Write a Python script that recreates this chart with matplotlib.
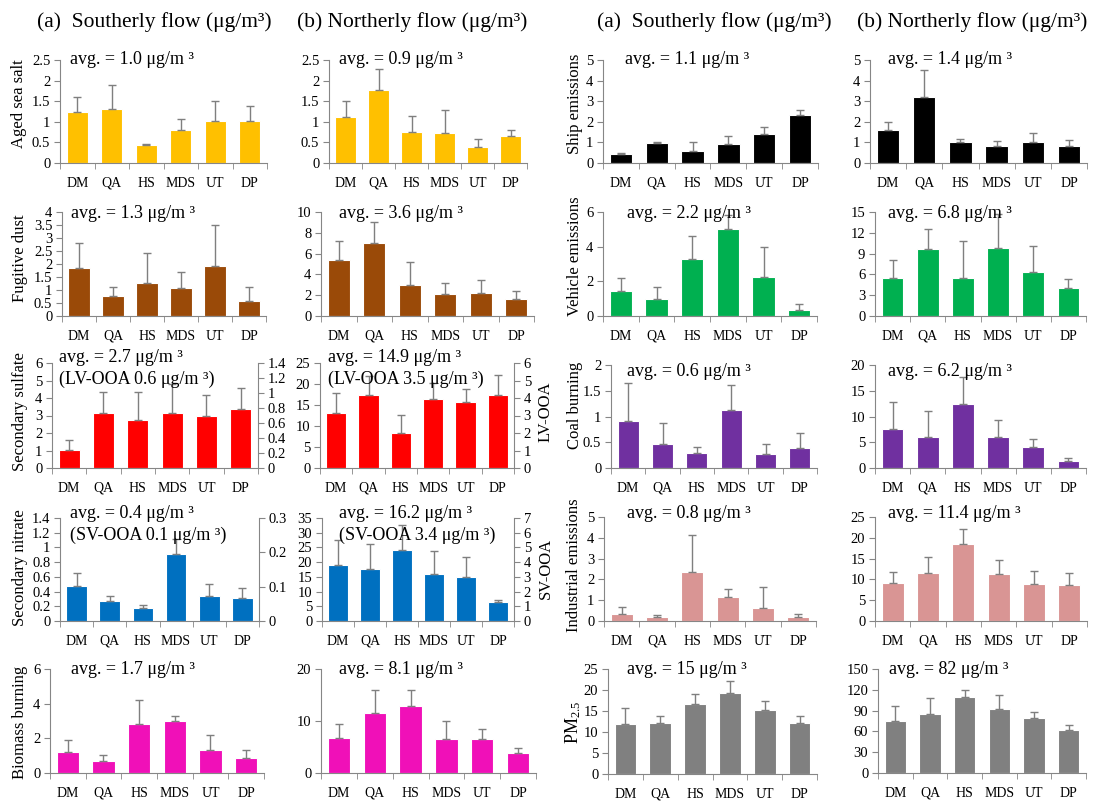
import matplotlib
matplotlib.use('agg')
import numpy as np
import matplotlib.pyplot as plt
from matplotlib.ticker import MultipleLocator, FuncFormatter

plt.rcParams['font.family'] = ['Liberation Serif', 'DejaVu Serif']
plt.rcParams['mathtext.fontset'] = 'custom'
plt.rcParams['mathtext.rm'] = 'Liberation Serif'
plt.rcParams['mathtext.it'] = 'Liberation Serif:italic'

sites = ['DM', 'QA', 'HS', 'MDS', 'UT', 'DP']

# (a) southerly / (b) northerly flow, mean and SD per site (ug/m3)
seasalt_s = [1.24, 1.31, 0.44, 0.81, 1.02, 1.02]
seasalt_s_sd = [0.36, 0.58, 0.03, 0.25, 0.48, 0.36]
seasalt_n = [1.11, 1.77, 0.75, 0.73, 0.40, 0.65]
seasalt_n_sd = [0.39, 0.52, 0.38, 0.56, 0.19, 0.16]

dust_s = [1.83, 0.76, 1.27, 1.07, 1.93, 0.57]
dust_s_sd = [0.97, 0.35, 1.14, 0.61, 1.56, 0.54]
dust_n = [5.34, 7.01, 2.99, 2.12, 2.19, 1.64]
dust_n_sd = [1.83, 2.03, 2.22, 1.10, 1.28, 0.74]

sulfate_s = [1.05, 3.16, 2.76, 3.16, 2.99, 3.37]
sulfate_s_sd = [0.57, 1.18, 1.58, 1.64, 1.16, 1.20]
sulfate_n = [13.2, 17.5, 8.33, 16.5, 15.6, 17.5]
sulfate_n_sd = [4.7, 4.3, 4.2, 3.7, 3.1, 4.6]

nitrate_s = [0.474, 0.271, 0.176, 0.908, 0.339, 0.312]
nitrate_s_sd = [0.172, 0.072, 0.045, 0.21, 0.161, 0.14]
nitrate_n = [18.97, 17.6, 24.0, 15.9, 14.9, 6.44]
nitrate_n_sd = [8.4, 8.7, 8.7, 7.8, 6.9, 0.56]

biomass_s = [1.2, 0.68, 2.85, 2.98, 1.32, 0.85]
biomass_s_sd = [0.7, 0.38, 1.35, 0.33, 0.87, 0.45]
biomass_n = [6.77, 11.5, 12.9, 6.45, 6.45, 3.8]
biomass_n_sd = [2.71, 4.4, 3.0, 3.55, 2.05, 1.1]

ship_s = [0.45, 0.98, 0.60, 0.94, 1.42, 2.34]
ship_s_sd = [0.02, 0.05, 0.43, 0.35, 0.32, 0.24]
ship_n = [1.60, 3.21, 1.00, 0.81, 1.00, 0.81]
ship_n_sd = [0.37, 1.32, 0.18, 0.27, 0.48, 0.32]

vehicle_s = [1.44, 0.98, 3.28, 5.00, 2.24, 0.34]
vehicle_s_sd = [0.78, 0.71, 1.36, 0.85, 1.74, 0.33]
vehicle_n = [5.46, 9.63, 5.46, 9.77, 6.32, 4.02]
vehicle_n_sd = [2.59, 2.97, 5.34, 5.0, 3.8, 1.25]

coal_s = [0.92, 0.46, 0.30, 1.13, 0.28, 0.38]
coal_s_sd = [0.74, 0.41, 0.11, 0.48, 0.19, 0.30]
coal_n = [7.55, 6.0, 12.45, 6.0, 4.0, 1.42]
coal_n_sd = [5.22, 5.1, 5.25, 3.23, 1.68, 0.52]

industry_s = [0.35, 0.18, 2.36, 1.17, 0.61, 0.18]
industry_s_sd = [0.32, 0.09, 1.76, 0.38, 1.02, 0.14]
industry_n = [9.2, 11.6, 18.5, 11.2, 8.97, 8.57]
industry_n_sd = [2.6, 3.8, 3.7, 3.5, 3.0, 2.9]

pm_s = [11.9, 12.1, 16.6, 19.3, 15.3, 12.1]
pm_s_sd = [3.7, 1.8, 2.4, 2.9, 2.2, 1.8]
pm_n = [75, 85.5, 110, 92.7, 79.8, 62.6]
pm_n_sd = [21.5, 23, 9, 20.3, 8.6, 6.7]

W, H = 1097, 801
fig = plt.figure(figsize=(W / 100, H / 100), dpi=100)
GRAY = '#868686'
fmt = FuncFormatter(lambda v, p: f'{v:g}')


def fx(x):
    return x / W


def fy(y):
    return 1 - y / H


def style_y(ax, side):
    ax.yaxis.set_major_formatter(fmt)
    ax.tick_params(axis='y', which='major', direction='out', length=4,
                   color=GRAY, labelsize=10.5, pad=3)
    ax.spines[side].set_color(GRAY)


def panel(pos, vals, sd, color, ymax, step, right=None):
    l, r, t, b = pos
    ax = fig.add_axes([fx(l), fy(b), (r - l) / W, (b - t) / H])
    x = np.arange(len(sites))
    ax.bar(x, vals, width=0.62, color=color, edgecolor='white',
           linewidth=0.8, zorder=2)
    ax.errorbar(x, vals, yerr=[np.zeros(len(vals)), sd], fmt='none',
                ecolor='#7f7f7f', elinewidth=1, capsize=3, capthick=1, zorder=3)
    ax.set_xlim(-0.5, 5.5)
    ax.set_ylim(0, ymax)
    ax.yaxis.set_major_locator(MultipleLocator(step))
    ax.set_xticks(x)
    ax.set_xticklabels(sites, fontsize=10)
    ax.set_xticks(np.arange(-0.5, 6, 1), minor=True)
    ax.tick_params(axis='x', which='major', length=0, pad=10)
    ax.tick_params(axis='x', which='minor', direction='out', length=4, color=GRAY)
    for s in ['top', 'right']:
        ax.spines[s].set_visible(False)
    ax.spines['bottom'].set_color(GRAY)
    style_y(ax, 'left')
    if right is not None:
        ax2 = ax.twinx()
        ax2.set_ylim(0, right[0])
        ax2.yaxis.set_major_locator(MultipleLocator(right[1]))
        for s in ['top', 'left', 'bottom']:
            ax2.spines[s].set_visible(False)
        style_y(ax2, 'right')
    return ax


def label(x, y, s, size=12):
    fig.text(fx(x), fy(y), s, rotation=90, ha='center', va='center', fontsize=size)


def note(x, y, s, size=13):
    fig.text(fx(x), fy(y), s, ha='left', va='center', fontsize=size)


# column titles
for xt, s in [(37, '(a)  Southerly flow (μg/m³)'), (297, '(b) Northerly flow (μg/m³)'),
              (597, '(a)  Southerly flow (μg/m³)'), (857, '(b) Northerly flow (μg/m³)')]:
    fig.text(fx(xt), fy(22), s, ha='left', va='center', fontsize=15.5)

# row 1
panel((60, 267, 60, 163), seasalt_s, seasalt_s_sd, '#FFC000', 2.5, 0.5)
panel((329, 527, 60, 163), seasalt_n, seasalt_n_sd, '#FFC000', 2.5, 0.5)
panel((603, 818, 60, 163), ship_s, ship_s_sd, '#000000', 5, 1)
panel((870, 1087, 60, 163), ship_n, ship_n_sd, '#000000', 5, 1)
label(19, 104, 'Aged sea salt')
label(575, 104, 'Ship emissions')
note(70, 59, 'avg. = 1.0 μg/m ³')
note(339, 59, 'avg. = 0.9 μg/m ³')
note(625, 59, 'avg. = 1.1 μg/m ³')
note(888, 59, 'avg. = 1.4 μg/m ³')

# row 2
panel((62, 266, 212, 316), dust_s, dust_s_sd, '#9A4A08', 4, 0.5)
panel((321, 534, 212, 316), dust_n, dust_n_sd, '#9A4A08', 10, 2)
panel((603, 817, 212, 316), vehicle_s, vehicle_s_sd, '#00B050', 6, 2)
panel((875, 1086, 212, 316), vehicle_n, vehicle_n_sd, '#00B050', 15, 3)
label(20, 258, 'Fugitive dust')
label(575, 256, 'Vehicle emissions')
note(71, 213, 'avg. = 1.3 μg/m ³')
note(339, 213, 'avg. = 3.6 μg/m ³')
note(627, 213, 'avg. = 2.2 μg/m ³')
note(888, 213, 'avg. = 6.8 μg/m ³')

# row 3
panel((52, 258, 363, 468), sulfate_s, sulfate_s_sd, '#FF0000', 6, 1, right=(1.4, 0.2))
panel((320, 514, 363, 468), sulfate_n, sulfate_n_sd, '#FF0000', 25, 5, right=(6, 1))
panel((611, 817, 365, 468), coal_s, coal_s_sd, '#7030A0', 2, 0.5)
panel((875, 1086, 365, 468), coal_n, coal_n_sd, '#7030A0', 20, 5)
label(20, 412, 'Secondary sulfate')
label(546, 412, 'LV-OOA')
label(575, 405, 'Coal burning')
note(59, 357, 'avg. = 2.7 μg/m ³')
note(59, 379, '(LV-OOA 0.6 μg/m ³)')
note(328, 357, 'avg. = 14.9 μg/m ³')
note(328, 379, '(LV-OOA 3.5 μg/m ³)')
note(627, 372, 'avg. = 0.6 μg/m ³')
note(888, 372, 'avg. = 6.2 μg/m ³')

# row 4
panel((60, 259, 518, 621), nitrate_s, nitrate_s_sd, '#0070C0', 1.4, 0.2, right=(0.3, 0.1))
panel((322, 514, 518, 621), nitrate_n, nitrate_n_sd, '#0070C0', 35, 5, right=(7, 1))
panel((604, 816, 517, 621), industry_s, industry_s_sd, '#D99594', 5, 1)
panel((875, 1087, 517, 621), industry_n, industry_n_sd, '#D99594', 25, 5)
label(20, 568, 'Secondary nitrate')
label(546, 568, 'SV-OOA')
label(574, 565, 'Industrial emissions')
note(70, 513, 'avg. = 0.4 μg/m ³')
note(70, 535, '(SV-OOA 0.1 μg/m ³)')
note(339, 513, 'avg. = 16.2 μg/m ³')
note(339, 535, '(SV-OOA 3.4 μg/m ³)')
note(627, 513, 'avg. = 0.8 μg/m ³')
note(888, 513, 'avg. = 11.4 μg/m ³')

# row 5
panel((50, 264, 669, 773), biomass_s, biomass_s_sd, '#F010B8', 6, 2)
panel((321, 536, 669, 773), biomass_n, biomass_n_sd, '#F010B8', 20, 10)
panel((608, 817, 669, 774), pm_s, pm_s_sd, '#808080', 25, 5)
panel((878, 1086, 669, 773), pm_n, pm_n_sd, '#808080', 150, 30)
label(20, 722, 'Biomass burning')
label(573, 722, r'PM$_{\mathrm{2.5}}$', size=13)
note(71, 670, 'avg. = 1.7 μg/m ³')
note(339, 670, 'avg. = 8.1 μg/m ³')
note(627, 670, 'avg. = 15 μg/m ³')
note(889, 670, 'avg. = 82 μg/m ³')

fig.savefig('out.png', dpi=100)
